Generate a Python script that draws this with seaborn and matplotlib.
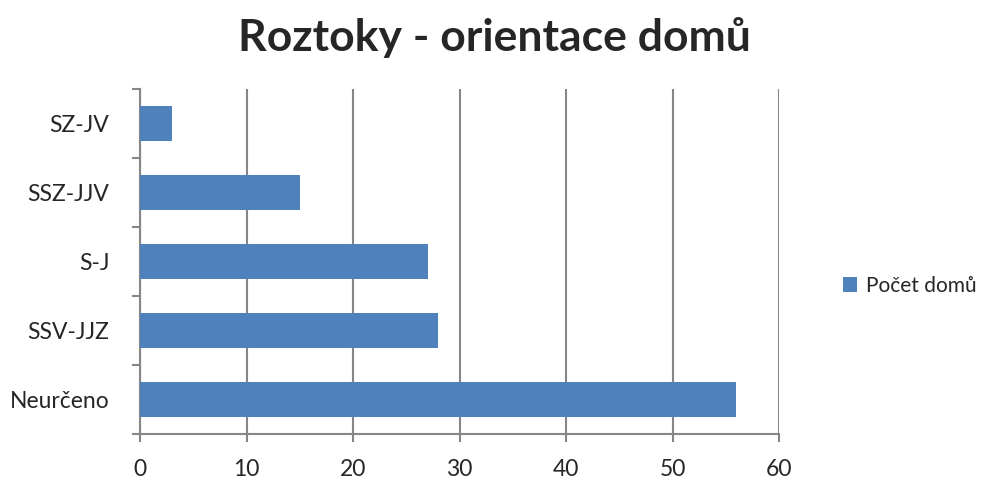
import numpy as np
import pandas as pd
import seaborn as sns
import matplotlib.pyplot as plt
from matplotlib.ticker import FixedLocator

kategorie = ["SZ-JV", "SSZ-JJV", "S-J", "SSV-JJZ", "Neurčeno"]
pocet = [3, 15, 27, 28, 56]
serie = "Počet domů"
x_ticks = [0, 10, 20, 30, 40, 50, 60]

df = pd.DataFrame({"orientace": kategorie, "pocet": pocet, "serie": serie})

sns.set_style("white")
plt.rcParams['font.family'] = ['Lato', 'DejaVu Sans']

fig = plt.figure(figsize=(9.88, 4.83), dpi=100)
ax = fig.add_axes([0.1417, 0.1014, 0.6468, 0.7143])

sns.barplot(data=df, y="orientace", x="pocet", hue="serie", orient="h",
            palette=["#4f81bd"], saturation=1, width=0.5, dodge=False,
            linewidth=0, ax=ax, zorder=3)

grey = "#868686"
ax.set_xlim(0, 60)
ax.set_xticks(x_ticks)
ax.set_ylim(len(kategorie) - 0.5, -0.5)
ax.xaxis.grid(True, color=grey, linewidth=1.5, zorder=0)
ax.yaxis.grid(False)
for s in ["top", "right"]:
    ax.spines[s].set_visible(False)
for s in ["left", "bottom"]:
    ax.spines[s].set_color(grey)
    ax.spines[s].set_linewidth(1.5)

ax.tick_params(axis="x", length=6, width=1.5, color=grey, labelsize=16.5, pad=12, direction="out", bottom=True)
ax.tick_params(axis="y", which="major", length=0, labelsize=16.5, pad=22)
ax.yaxis.set_minor_locator(FixedLocator(np.arange(-0.5, len(kategorie), 1)))
ax.tick_params(axis="y", which="minor", length=6, width=1.5, color=grey, left=True)
ax.set_xlabel("")
ax.set_ylabel("")

fig.suptitle("Roztoky - orientace domů", fontsize=32, fontweight="bold", y=0.965)

leg = ax.legend(loc="center left", bbox_to_anchor=(1.07, 0.43), frameon=False,
                fontsize=15, handlelength=0.7, handleheight=0.7, handletextpad=0.45)

fig.savefig("out.png", dpi=100)
